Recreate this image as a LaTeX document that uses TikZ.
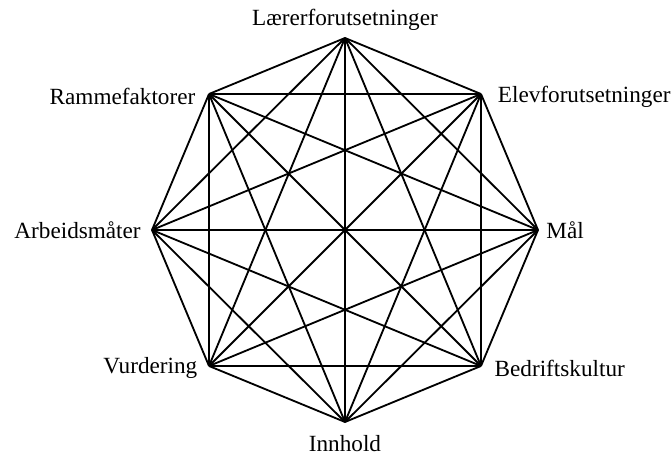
\documentclass[tikz,border=0pt]{standalone}
\usepackage{fontspec}
\setmainfont{Liberation Serif}
\usetikzlibrary{positioning}
\tikzset{
  corner/.style={coordinate},
  tag/.style={font=\fontsize{16.5}{18}\selectfont, inner sep=1pt},
  edge/.style={line width=1.3pt, line join=round}
}

\begin{document}
\begin{tikzpicture}[x=0.025cm, y=-0.025cm, node distance=0.4cm]
    \useasboundingbox (0,0) rectangle (672,457);

    % corners of the octagon
    \coordinate (laerer) at (345,38);
    \coordinate (elev) at (481,94);
    \coordinate (maal) at (538,230);
    \coordinate (bedrift) at (481,366);
    \coordinate (innhold) at (345,422);
    \coordinate (vurd) at (209,366);
    \coordinate (arbeid) at (152,230);
    \coordinate (ramme) at (209,94);

    % every corner joined to every other
    \foreach \a [count=\i] in {laerer,elev,maal,bedrift,innhold,vurd,arbeid,ramme}{
      \foreach \b [count=\j] in {laerer,elev,maal,bedrift,innhold,vurd,arbeid,ramme}{
        \ifnum\j>\i \draw[edge] (\a) -- (\b); \fi
      }
    }

    \node[tag, above=0.14cm of laerer] (tlaerer) {Lærerforutsetninger};
    \node[tag, right=0.38cm of elev, yshift=-0.07cm] (telev) {Elevforutsetninger};
    \node[tag, right=0.17cm of maal] (tmaal) {Mål};
    \node[tag, right=0.3cm of bedrift, yshift=-0.05cm] (tbedrift) {Bedriftskultur};
    \node[tag, below=0.3cm of innhold] (tinnhold) {Innhold};
    \node[tag, left=0.25cm of vurd, yshift=-0.05cm] (tvurd) {Vurdering};
    \node[tag, left=0.24cm of arbeid] (tarbeid) {Arbeidsmåter};
    \node[tag, left=0.3cm of ramme, yshift=-0.07cm] (tramme) {Rammefaktorer};
\end{tikzpicture}
\end{document}
